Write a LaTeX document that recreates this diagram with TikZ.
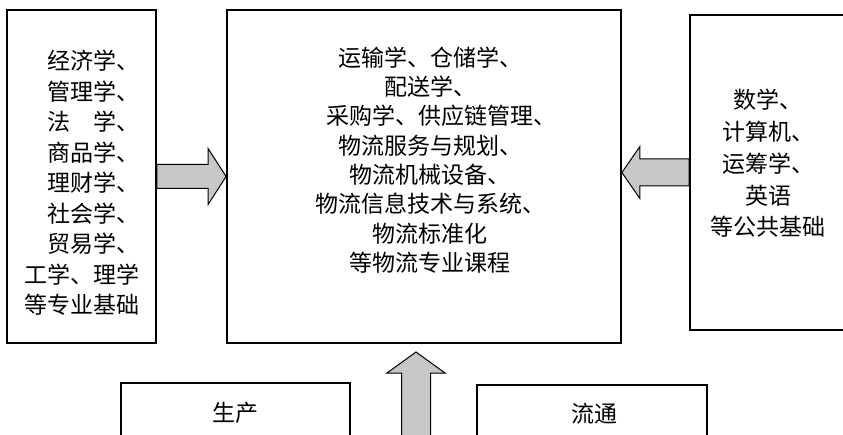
\documentclass[tikz,border=0pt]{standalone}
\usepackage{fontspec}
\setmainfont{Noto Sans CJK SC}
\usetikzlibrary{calc}
\tikzset{
  box/.style={draw=black, line width=1.8pt, fill=white, inner sep=0pt},
  txt/.style={align=center, inner sep=0pt, font=\fontsize{23}{30.5}\selectfont},
  blockarrow/.style={draw=black, line width=1pt, fill=black!22, line join=miter}
}
\begin{document}
\begin{tikzpicture}[x=1pt,y=-1pt]
\useasboundingbox (0,0) rectangle (843,435);
% boxes
\node[box, minimum width=149pt, minimum height=333pt] (L) at (81.5,176.5) {};
\node[box, minimum width=394pt, minimum height=333pt] (M) at (424,176.5) {};
\node[box, minimum width=200pt, minimum height=315pt] (R) at (790,172.5) {};
\node[box, minimum width=229pt, minimum height=80pt] (P) at (235.5,423) {};
\node[box, minimum width=230pt, minimum height=80pt] (T) at (592,425) {};
% texts
\node[txt] (Lt) at (82,183) {经济学\rlap{、}\\管理学\rlap{、}\\法　学\rlap{、}\\商品学\rlap{、}\\理财学\rlap{、}\\社会学\rlap{、}\\贸易学\rlap{、}\\工学、理学\\等专业基础};
\node[txt, font=\fontsize{23}{29.3}\selectfont] (Mt) at (430,160) {运输学、仓储学、\\配送学、\\采购学、供应链管理\rlap{、}\\物流服务与规划、\\物流机械设备、\\物流信息技术与系统、\\物流标准化\\等物流专业课程};
\node[txt, font=\fontsize{23}{31.7}\selectfont] (Rt) at (768,163.5) {数学、\\计算机、\\运筹学、\\英语\\等公共基础};
\node[txt] (Pt) at (235.5,413) {生产};
\node[txt] (Tt) at (594,414) {流通};
% block arrows
\draw[blockarrow] ($(L.east)+(0,-12)$) -- ($(M.west)+(-18,-12)$) -- ($(M.west)+(-18,-28)$) -- (M.west)
  -- ($(M.west)+(-18,28)$) -- ($(M.west)+(-18,12)$) -- ($(L.east)+(0,12)$) -- cycle;
\coordinate (rtip) at (M.east |- R.west);
\draw[blockarrow] ($(R.west)+(0,-13.5)$) -- ($(rtip)+(18,-13.5)$) -- ($(rtip)+(18,-26)$) -- (rtip)
  -- ($(rtip)+(18,26)$) -- ($(rtip)+(18,13.5)$) -- ($(R.west)+(0,13.5)$) -- cycle;
\coordinate (utip) at (416,352);
\coordinate (ubase) at (416,445);
\draw[blockarrow] ($(ubase)+(-14.5,0)$) -- ($(utip)+(-14.5,21)$) -- ($(utip)+(-29,21)$) -- (utip)
  -- ($(utip)+(29,21)$) -- ($(utip)+(14.5,21)$) -- ($(ubase)+(14.5,0)$) -- cycle;
\end{tikzpicture}
\end{document}
